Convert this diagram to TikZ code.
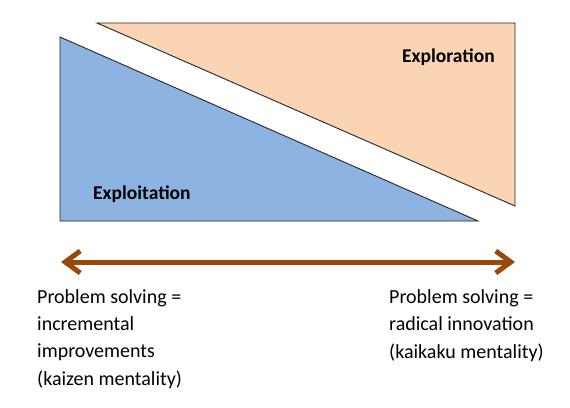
\documentclass[tikz,border=0pt]{standalone}
\usepackage{fontspec}
\setmainfont{Carlito}
\usetikzlibrary{arrows.meta}
\definecolor{expblue}{HTML}{8DB3E2}
\definecolor{exporange}{HTML}{FBD4B4}
\definecolor{arrowbrown}{HTML}{984807}
\begin{document}
\begin{tikzpicture}[x=1pt,y=-1pt,
  tri/.style={draw=black!85,line width=0.9pt,line join=miter},
  label/.style={font=\fontsize{19.5}{23}\selectfont\bfseries,inner sep=0pt,anchor=base west},
  caption/.style={font=\fontsize{20}{27.3}\selectfont,align=left,anchor=base west,inner sep=0pt},
  barb/.tip={Straight Barb[length=15pt,width=22pt,line width=5pt]}]
\useasboundingbox (0,0) rectangle (570,407);
\fill[white] (0,0) rectangle (570,407);
\filldraw[tri,fill=exporange] (97,23) -- (515,23) -- (515,206) -- cycle;
\filldraw[tri,fill=expblue] (60,37) -- (60,221) -- (478,221) -- cycle;
\node[label] (explor) at (402,62) {Exploration};
\node[label] (exploit) at (93,199) {Exploitation};
\coordinate (L) at (61,262);
\coordinate (R) at (515,262);
\draw[arrowbrown,line width=5pt,barb-barb] (L) -- (R);
\node[caption] (left) at (37,385) {Problem solving =\\incremental\\improvements\\(kaizen mentality)};
\node[caption] (right) at (389,358) {Problem solving =\\radical innovation\\(kaikaku mentality)};
\end{tikzpicture}
\end{document}
